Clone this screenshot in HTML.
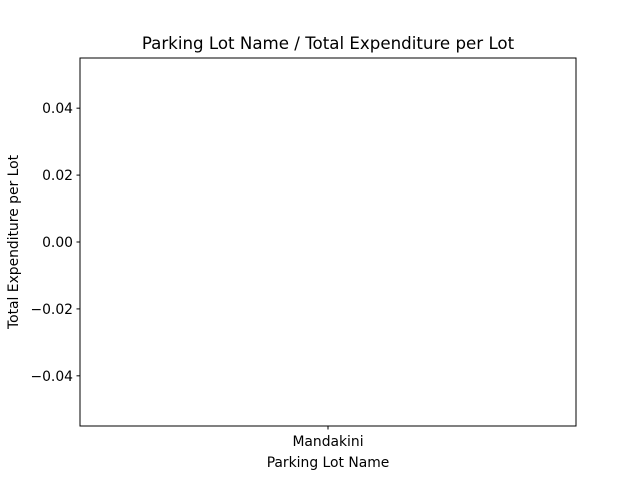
<!DOCTYPE html>
<html><head><meta charset="utf-8"><style>
body{margin:0;background:#fff;}
svg{display:block;font-family:"DejaVu Sans","Liberation Sans",sans-serif;}
</style></head><body>
<svg id="chart" width="640" height="480">
<text x="328" y="49" font-size="16.67" text-anchor="middle">Parking Lot Name / Total Expenditure per Lot</text>
<g id="yticks"></g><g id="xticks"></g><g id="bars"></g>
<rect x="80" y="58" width="496" height="368" fill="none" stroke="#000" stroke-width="1"/>
<text x="328" y="467" font-size="13.89" text-anchor="middle">Parking Lot Name</text>
<text transform="translate(18,242) rotate(-90)" font-size="13.89" text-anchor="middle">Total Expenditure per Lot</text>
</svg>
<script>
const categories=["Mandakini"];
const values=[0];
const yTicks=[0.04,0.02,0.00,-0.02,-0.04];
const yTickLabels=["0.04","0.02","0.00","\u22120.02","\u22120.04"];
const NS="http://www.w3.org/2000/svg";
const L=80,R=576,T=58,B=426,yMin=-0.055,yMax=0.055;
function ys(v){return B-(v-yMin)/(yMax-yMin)*(B-T);}
function xs(i){return L+(i+0.5)*(R-L)/categories.length;}
function mk(tag,a,p){const e=document.createElementNS(NS,tag);for(const k in a)e.setAttribute(k,a[k]);p.appendChild(e);return e;}
const yg=document.getElementById('yticks');
yTicks.forEach((v,i)=>{const y=ys(v);
const l=mk('line',{x1:L-3.5,x2:L,y1:y,y2:y,stroke:'#000'},yg);


const t=mk('text',{x:L-7,y:y+5,'font-size':13.89,'text-anchor':'end'},yg);t.textContent=yTickLabels[i];

});
const xg=document.getElementById('xticks'),bg=document.getElementById('bars');
const bw=(R-L)/categories.length*0.4;
categories.forEach((c,i)=>{const x=xs(i);
const l=mk('line',{x1:x,x2:x,y1:B,y2:B+3.5,stroke:'#000'},xg);


const t=mk('text',{x:x,y:B+20,'font-size':13.89,'text-anchor':'middle'},xg);t.textContent=c;


const y0=ys(0),y1=ys(values[i]);
const r=mk('rect',{x:x-bw/2,y:Math.min(y0,y1),width:bw,height:Math.abs(y1-y0),fill:'#1f77b4'},bg);

});
</script>
</body></html>
